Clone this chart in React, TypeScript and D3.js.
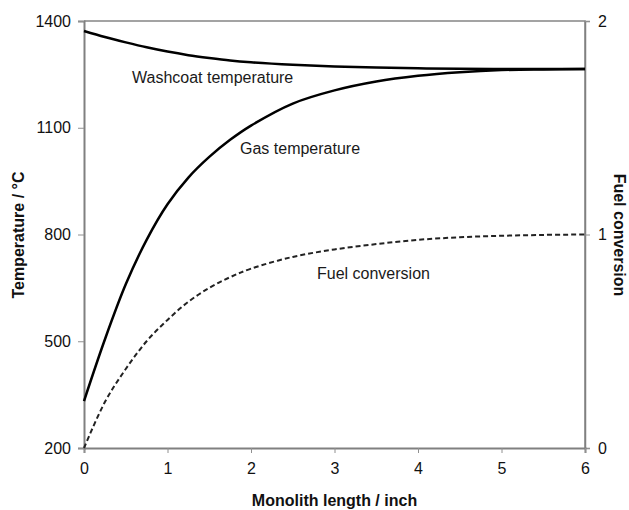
import React, { useRef, useEffect } from "react";
import * as d3 from "d3";

// monolith length (inch)
const lengths = [0, 0.25, 0.5, 0.75, 1, 1.25, 1.5, 1.75, 2, 2.5, 3, 3.5, 4, 4.5, 5, 5.5, 6];
// temperatures in °C
const washcoatTemp = [1372, 1355, 1340, 1326, 1314, 1304, 1296, 1289, 1284, 1277, 1272, 1269, 1267, 1266, 1265, 1265, 1265];
const gasTemp = [332, 505, 660, 785, 885, 960, 1018, 1066, 1106, 1168, 1205, 1230, 1246, 1256, 1262, 1264, 1265];
// fuel conversion (right axis)
const fuelConversion = [0, 0.215, 0.37, 0.5, 0.6, 0.685, 0.75, 0.8, 0.84, 0.895, 0.93, 0.955, 0.975, 0.987, 0.994, 0.998, 1.0];

const tempTicks = [200, 500, 800, 1100, 1400];
const convTicks = [0, 1, 2];
const xTicks = [0, 1, 2, 3, 4, 5, 6];

const W = 629;
const H = 510;
const FONT = "Arial, 'Liberation Sans', sans-serif";

const App: React.FC = () => {
  const svgRef = useRef<SVGSVGElement | null>(null);

  useEffect(() => {
    const svg = d3.select(svgRef.current);
    svg.selectAll("*").remove();

    const left = 84, right = 585, top = 21, bottom = 448;

    const x = d3.scaleLinear().domain([0, 6]).range([left, right]);
    const yT = d3.scaleLinear().domain([200, 1400]).range([bottom, top]);
    const yC = d3.scaleLinear().domain([0, 2]).range([bottom, top]);

    svg.append("rect").attr("width", W).attr("height", H).attr("fill", "#fff");

    // frame top + right
    svg.append("path")
      .attr("d", `M${left},${top}H${right}V${bottom}`)
      .attr("fill", "none")
      .attr("stroke", "#858585")
      .attr("stroke-width", 1.5);

    const styleAxis = (g: any) => {
      g.select(".domain").attr("stroke", "#808080").attr("stroke-width", 2);
      g.selectAll(".tick line").attr("stroke", "#909090").attr("stroke-width", 1);
      g.selectAll(".tick text")
        .attr("font-family", FONT)
        .attr("font-size", 16)
        .attr("fill", "#111");
    };

    // left axis
    svg.append("g")
      .attr("transform", `translate(${left},0)`)
      .call(d3.axisLeft(yT).tickValues(tempTicks).tickFormat(d3.format("d")).tickSizeOuter(0).tickSize(6).tickPadding(7))
      .call(styleAxis);

    // right axis
    svg.append("g")
      .attr("transform", `translate(${right},0)`)
      .call(d3.axisRight(yC).tickValues(convTicks).tickFormat(d3.format("d")).tickSizeOuter(0).tickSize(5).tickPadding(8))
      .call(styleAxis)
      .call((g: any) => g.select(".domain").attr("stroke-width", 1.5));

    // bottom axis
    svg.append("g")
      .attr("transform", `translate(0,${bottom})`)
      .call(d3.axisBottom(x).tickValues(xTicks).tickFormat(d3.format("d")).tickSizeOuter(0).tickSize(5).tickPadding(10))
      .call(styleAxis);

    const tempLine = d3.line<number>()
      .x((_, i) => x(lengths[i]))
      .y((d) => yT(d))
      .curve(d3.curveCatmullRom.alpha(0.5));

    const convLine = d3.line<number>()
      .x((_, i) => x(lengths[i]))
      .y((d) => yC(d))
      .curve(d3.curveCatmullRom.alpha(0.5));

    svg.append("path")
      .attr("d", tempLine(washcoatTemp))
      .attr("fill", "none")
      .attr("stroke", "#000")
      .attr("stroke-width", 2.5);

    svg.append("path")
      .attr("d", tempLine(gasTemp))
      .attr("fill", "none")
      .attr("stroke", "#000")
      .attr("stroke-width", 2.5);

    svg.append("path")
      .attr("d", convLine(fuelConversion))
      .attr("fill", "none")
      .attr("stroke", "#222")
      .attr("stroke-width", 2)
      .attr("stroke-dasharray", "5,3");

    // curve labels
    const labels = [
      { t: "Washcoat temperature", x: 132, y: 83 },
      { t: "Gas temperature", x: 240, y: 154 },
      { t: "Fuel conversion", x: 317, y: 279 },
    ];
    svg.selectAll("text.lbl")
      .data(labels)
      .join("text")
      .attr("class", "lbl")
      .attr("x", (d) => d.x)
      .attr("y", (d) => d.y)
      .attr("font-family", FONT)
      .attr("font-size", 16)
      .attr("fill", "#1a1a1a")
      .text((d) => d.t);

    // axis titles
    svg.append("text")
      .attr("x", (left + right) / 2)
      .attr("y", 506)
      .attr("text-anchor", "middle")
      .attr("font-family", FONT)
      .attr("font-size", 16)
      .attr("font-weight", "bold")
      .attr("fill", "#111")
      .text("Monolith length / inch");

    svg.append("text")
      .attr("transform", `translate(24,235) rotate(-90)`)
      .attr("text-anchor", "middle")
      .attr("font-family", FONT)
      .attr("font-size", 16)
      .attr("font-weight", "bold")
      .attr("fill", "#111")
      .text("Temperature / °C");

    svg.append("text")
      .attr("transform", `translate(614,235) rotate(90)`)
      .attr("text-anchor", "middle")
      .attr("font-family", FONT)
      .attr("font-size", 16)
      .attr("font-weight", "bold")
      .attr("fill", "#111")
      .text("Fuel conversion");
  }, []);

  return (
    <svg
      ref={svgRef}
      width={W}
      height={H}
      style={{ position: "absolute", left: 0, top: 0 }}
    />
  );
};

export default App;
